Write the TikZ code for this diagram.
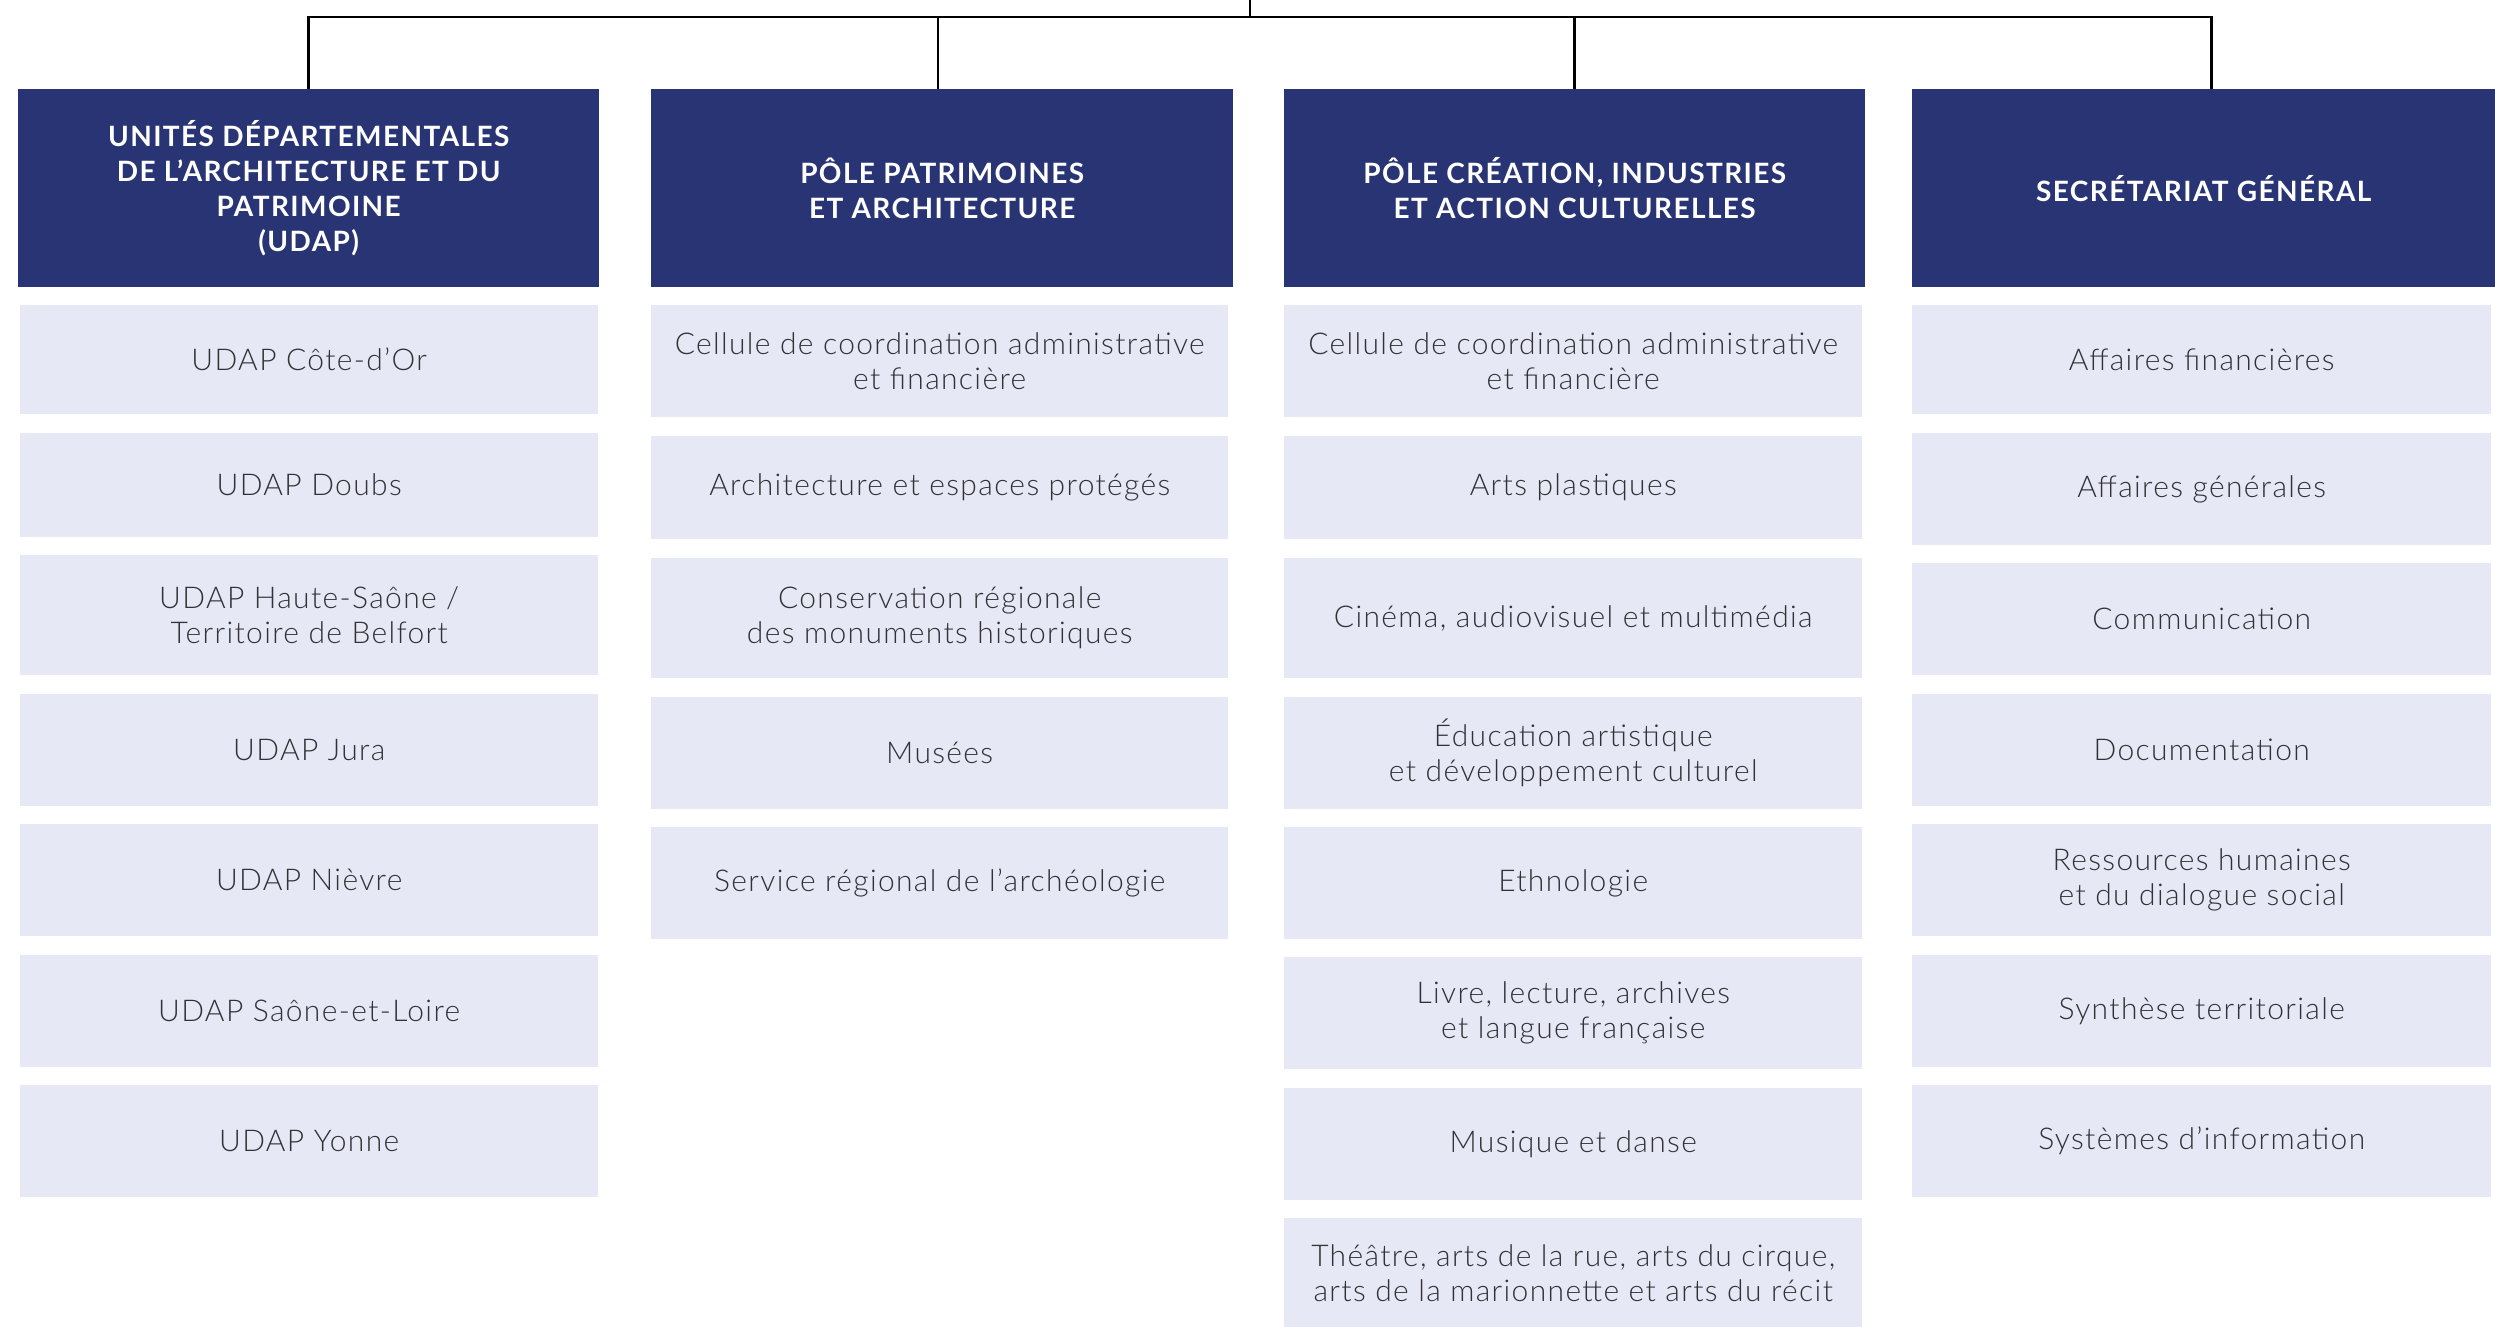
\documentclass[tikz,border=0pt]{standalone}
\usepackage{fontspec}
\setmainfont{Lato}
\newfontfamily\itemfamily{Lato Light}[LetterSpace=4.5]
\newfontfamily\headfamily{Lato}[LetterSpace=5]
\definecolor{navy}{RGB}{40,52,116}
\definecolor{lilac}{RGB}{230,232,245}
\definecolor{itemtext}{RGB}{50,50,54}
\newcommand\mkitem[6]{\node[itembox, minimum width=#4, minimum height=#5] (#1) at (#2,#3) {#6};}
\newcommand\mkhead[4]{\node[headbox, minimum width=#3] (#1) at (#2,89) {#4};}
\begin{document}
\begin{tikzpicture}[x=1pt,y=-1pt,
  headbox/.style={anchor=north west, fill=navy, text=white, inner sep=0pt, minimum height=198,
    align=center, font=\fontsize{28}{35}\selectfont\headfamily\bfseries},
  itembox/.style={anchor=north west, fill=lilac, text=itemtext, inner sep=0pt, align=center,
    font=\fontsize{30}{35}\selectfont\itemfamily},
  link/.style={draw=black, line width=2.5pt}]
\useasboundingbox (0,0) rectangle (2495,1327);
% headers
\mkhead{h1}{18}{581}{UNITÉS DÉPARTEMENTALES\\DE L’ARCHITECTURE ET DU\\PATRIMOINE\\(UDAP)}
\mkhead{h2}{651}{582}{PÔLE PATRIMOINES\\ET ARCHITECTURE}
\mkhead{h3}{1284}{581}{PÔLE CRÉATION, INDUSTRIES\\ET ACTION CULTURELLES}
\mkhead{h4}{1912}{583}{SECRÉTARIAT GÉNÉRAL}
% connectors
\coordinate (top) at (1250,0);
\coordinate (bus) at (1250,17);
\draw[link] (top) -- (bus);
\draw[link] (bus) -| (h1.north);
\draw[link] (bus) -| ([xshift=-4pt]h2.north);
\draw[link] (bus) -| (h3.north);
\draw[link] (bus) -| ([xshift=8pt]h4.north);
% column 1
\mkitem{a1}{20}{305}{578}{108.5}{UDAP Côte-d’Or}
\mkitem{a2}{20}{433}{578}{103.5}{UDAP Doubs}
\mkitem{a3}{20}{555}{578}{119.5}{UDAP Haute-Saône /\\Territoire de Belfort}
\mkitem{a4}{20}{694}{578}{111.5}{UDAP Jura}
\mkitem{a5}{20}{824}{578}{112}{UDAP Nièvre}
\mkitem{a6}{20}{955}{578}{111.7}{UDAP Saône-et-Loire}
\mkitem{a7}{20}{1085}{578}{111.7}{UDAP Yonne}
% column 2
\mkitem{b1}{651}{305}{577}{111.5}{Cellule de coordination administrative\\et financière}
\mkitem{b2}{651}{436}{577}{103}{Architecture et espaces protégés}
\mkitem{b3}{651}{558}{577}{120}{Conservation régionale\\des monuments historiques}
\mkitem{b4}{651}{697}{577}{112}{Musées}
\mkitem{b5}{651}{827}{577}{112}{Service régional de l’archéologie}
% column 3
\mkitem{c1}{1284}{305}{578}{111.5}{Cellule de coordination administrative\\et financière}
\mkitem{c2}{1284}{436}{578}{103}{Arts plastiques}
\mkitem{c3}{1284}{558}{578}{120}{Cinéma, audiovisuel et multimédia}
\mkitem{c4}{1284}{697}{578}{112}{Éducation artistique\\et développement culturel}
\mkitem{c5}{1284}{827}{578}{112}{Ethnologie}
\mkitem{c6}{1284}{957}{578}{112}{Livre, lecture, archives\\et langue française}
\mkitem{c7}{1284}{1088}{578}{112}{Musique et danse}
\mkitem{c8}{1284}{1218}{578}{109}{Théâtre, arts de la rue, arts du cirque,\\arts de la marionnette et arts du récit}
% column 4
\mkitem{d1}{1912}{305}{579}{108.5}{Affaires financières}
\mkitem{d2}{1912}{433}{579}{111.5}{Affaires générales}
\mkitem{d3}{1912}{563}{579}{111.5}{Communication}
\mkitem{d4}{1912}{694}{579}{111.5}{Documentation}
\mkitem{d5}{1912}{824}{579}{112}{Ressources humaines\\et du dialogue social}
\mkitem{d6}{1912}{955}{579}{111.7}{Synthèse territoriale}
\mkitem{d7}{1912}{1085}{579}{111.7}{Systèmes d’information}
\end{tikzpicture}
\end{document}
